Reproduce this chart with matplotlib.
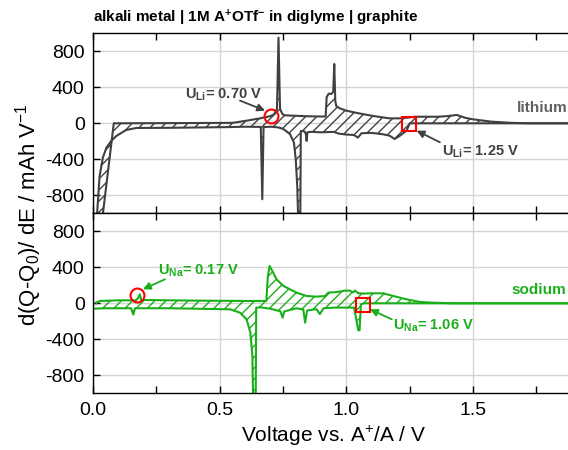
import numpy as np
import matplotlib
matplotlib.use('agg')
import matplotlib.pyplot as plt
from matplotlib.ticker import MultipleLocator

plt.rcParams['font.family'] = ['Liberation Sans', 'DejaVu Sans']
plt.rcParams['mathtext.fontset'] = 'custom'
plt.rcParams['mathtext.rm'] = 'Liberation Sans'
plt.rcParams['mathtext.it'] = 'Liberation Sans'
plt.rcParams['mathtext.bf'] = 'Liberation Sans:bold'
plt.rcParams['axes.unicode_minus'] = False
plt.rcParams['hatch.linewidth'] = 1.0

# lithium: charge (upper) and discharge (lower) branch of dQ/dE
li_up_v = [0.035, 0.082, 0.30, 0.55, 0.606, 0.659, 0.698, 0.715, 0.726, 0.732, 0.738,
           0.748, 0.76, 0.85, 0.918, 0.922, 0.93, 0.94, 0.948, 0.952, 0.956, 0.96,
           0.975, 1.0, 1.05, 1.106, 1.17, 1.21, 1.24, 1.27, 1.36, 1.40, 1.435, 1.47,
           1.50, 1.57, 1.65, 1.72, 1.9]
li_up_y = [-1100, 0, 2, 5, 29, 55, 78, 100, 160, 952, 160,
           100, 88, 78, 75, 290, 330, 325, 350, 659, 250, 190,
           165, 140, 110, 81, 55, 55, 62, 73, 73, 80, 93, 60,
           44, 19, 5, 0, 0]
li_dn_v = [0.012, 0.016, 0.026, 0.039, 0.053, 0.072, 0.092, 0.131, 0.171, 0.30, 0.54,
           0.60, 0.662, 0.668, 0.673, 0.70, 0.73, 0.751, 0.777, 0.793, 0.800, 0.806,
           0.810, 0.818, 0.82, 0.835, 0.840, 0.843, 0.846, 0.86, 0.90, 0.95, 0.97,
           1.0, 1.03, 1.045, 1.06, 1.10, 1.14, 1.17, 1.19, 1.21, 1.237, 1.25, 1.9]
li_dn_y = [-1100, -1010, -585, -381, -270, -196, -141, -74, -52, -50, -42,
           -38, -40, -844, -42, -38, -45, -63, -119, -215, -400, -700,
           -1100, -1100, -85, -90, -120, -196, -100, -95, -100, -95, -115,
           -125, -130, -159, -110, -107, -120, -137, -174, -140, -82, 0, 0]

# sodium
na_up_v = [0.012, 0.028, 0.10, 0.17, 0.178, 0.185, 0.19, 0.40, 0.60, 0.684, 0.690,
           0.697, 0.711, 0.724, 0.751, 0.777, 0.803, 0.843, 0.882, 0.915, 0.929,
           0.95, 0.975, 0.99, 1.014, 1.025, 1.034, 1.047, 1.07, 1.093, 1.145,
           1.185, 1.238, 1.29, 1.34, 1.42, 1.9]
na_up_y = [8, 26, 33, 33, 60, 100, 37, 30, 26, 26, 300,
           415, 341, 267, 193, 156, 119, 81, 74, 80, 119,
           122, 130, 140, 141, 120, 141, 111, 108, 111, 111,
           81, 44, 15, 7, 0, 0]
na_dn_v = [0.008, 0.05, 0.15, 0.159, 0.166, 0.30, 0.541, 0.58, 0.606, 0.621, 0.629,
           0.632, 0.642, 0.644, 0.66, 0.70, 0.74, 0.748, 0.755, 0.803, 0.830, 0.837,
           0.845, 0.882, 0.895, 0.91, 0.95, 1.03, 1.047, 1.052, 1.057, 1.07, 1.9]
na_dn_y = [-59, -55, -55, -125, -55, -55, -67, -104, -178, -326, -585,
           -1100, -1100, -48, -45, -60, -90, -160, -90, -55, -70, -215,
           -80, -65, -120, -55, -48, -48, -300, -300, -11, 0, 0]

gray = '#404040'
green = '#1aaf1a'

fig = plt.figure(figsize=(5.68, 4.5), dpi=100)
w = 481.5 / 568
ax1 = fig.add_axes([93 / 568, 1 - 213.3 / 450, w, 0.4])
ax2 = fig.add_axes([93 / 568, 1 - 393.3 / 450, w, 0.4])


def draw_branch(ax, up_v, up_y, dn_v, dn_y, color):
    px = np.concatenate([up_v, dn_v[::-1]])
    py = np.concatenate([up_y, dn_y[::-1]])
    ax.fill(px, py, facecolor='none', edgecolor=color, hatch='///', linewidth=0)
    ax.plot(up_v, up_y, color=color, lw=1.5)
    ax.plot(dn_v, dn_y, color=color, lw=1.5)


draw_branch(ax1, li_up_v, li_up_y, li_dn_v, li_dn_y, gray)
draw_branch(ax2, na_up_v, na_up_y, na_dn_v, na_dn_y, green)

for ax in (ax1, ax2):
    ax.set_xlim(0, 1.9)
    ax.set_ylim(-1000, 1000)
    ax.xaxis.set_major_locator(MultipleLocator(0.5))
    ax.xaxis.set_minor_locator(MultipleLocator(0.25))
    ax.set_yticks([-800, -400, 0, 400, 800])
    ax.grid(True, which='major', color='#d4d4d4', lw=1)
    ax.set_axisbelow(True)
    ax.tick_params(which='both', direction='in', top=True, bottom=True, length=5,
                   width=1, labelsize=14, pad=6)
    for s in ax.spines.values():
        s.set_linewidth(1)
ax1.tick_params(labelbottom=False)
ax2.xaxis.set_major_formatter(matplotlib.ticker.FormatStrFormatter('%.1f'))

# marked onset potentials
ax1.plot([0.702], [78], 'o', ms=10, mfc='none', mec='red', mew=1.5)
ax1.plot([1.248], [-8], 's', ms=9.5, mfc='none', mec='red', mew=1.5)
ax2.plot([0.172], [89], 'o', ms=10, mfc='none', mec='red', mew=1.5)
ax2.plot([1.064], [-14], 's', ms=9.5, mfc='none', mec='red', mew=1.5)

arw = dict(arrowstyle='-|>', lw=1.3, mutation_scale=11, shrinkA=0, shrinkB=0)
ax1.text(0.363, 270, r'U$_{\mathbf{Li}}$= 0.70 V', color=gray, fontsize=10.5, fontweight='bold')
ax1.annotate('', xy=(0.679, 141), xytext=(0.58, 252), arrowprops=dict(color=gray, **arw))
ax1.text(1.376, -364, r'U$_{\mathbf{Li}}$= 1.25 V', color=gray, fontsize=10.5, fontweight='bold')
ax1.annotate('', xy=(1.277, -82), xytext=(1.369, -211), arrowprops=dict(color=gray, **arw))
ax1.text(1.672, 126, 'lithium', color='#606060', fontsize=11, fontweight='bold')

ax2.text(0.257, 322, r'U$_{\mathbf{Na}}$= 0.17 V', color=green, fontsize=10.5, fontweight='bold')
ax2.annotate('', xy=(0.197, 156), xytext=(0.284, 267), arrowprops=dict(color=green, **arw))
ax2.text(1.184, -289, r'U$_{\mathbf{Na}}$= 1.06 V', color=green, fontsize=10.5, fontweight='bold')
ax2.annotate('', xy=(1.093, -67), xytext=(1.179, -178), arrowprops=dict(color=green, **arw))
ax2.text(1.652, 100, 'sodium', color=green, fontsize=11, fontweight='bold')

ax1.set_title(r'alkali metal | 1M A$^{\mathbf{+}}$OTf$^{\mathbf{-}}$ in diglyme | graphite',
              loc='left', fontsize=11, fontweight='bold', pad=8)
ax2.set_xlabel(r'Voltage vs. A$^{+}$/A / V', fontsize=15, labelpad=4)
fig.text(0.051, 0.522, r'd(Q-Q$_0$)/ dE / mAh V$^{-1}$', rotation=90,
         fontsize=16, ha='center', va='center')

plt.savefig('out.png', dpi=100)
